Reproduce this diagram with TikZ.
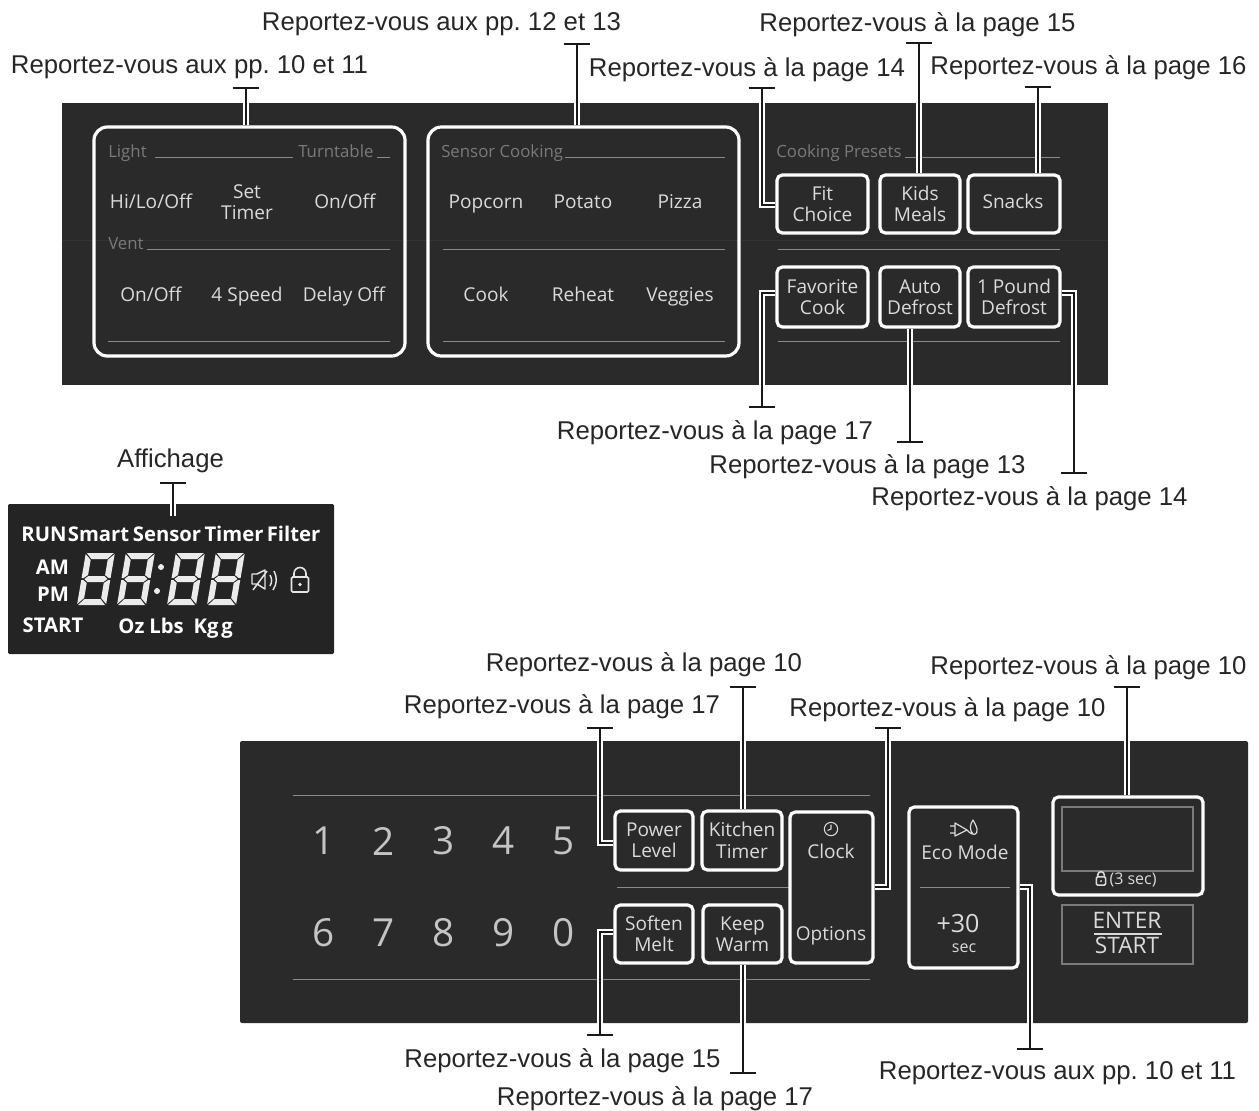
\documentclass[tikz,border=0pt]{standalone}
\usepackage{fontspec}
\setmainfont{Liberation Sans}
\newfontfamily\keyfont{Open Sans}
\usetikzlibrary{arrows.meta}

\definecolor{panelgray}{HTML}{2A2A2A}
\definecolor{dispgray}{HTML}{242424}
\definecolor{keytext}{HTML}{DADADA}
\definecolor{dimtext}{HTML}{7A7A7A}
\definecolor{rulegray}{HTML}{8A8A8A}

\tikzset{
	reflabel/.style={inner sep=0pt, yshift=-2.2pt, text=black!85, font=\frenchspacing\fontsize{19.3}{23}\selectfont},
	leader/.style={preaction={draw, white, line width=4.6pt}, draw=black!90, line width=1.8pt, -{Bar[width=20pt, line width=1.8pt]}},
	panel/.style={fill=panelgray, rounded corners=1.5pt},
	keybox/.style={draw=white, line width=2.4pt, rounded corners=4pt, inner sep=0pt},
	keytxt/.style={text=keytext, align=center, inner sep=0pt, yshift=-2.2pt, font=\keyfont\fontsize{14.3}{15.8}\selectfont, execute at begin node=\strut},
	keyplain/.style={text=keytext, inner sep=0pt},
	dimtxt/.style={text=dimtext, anchor=west, inner sep=0pt, yshift=-2.2pt, font=\keyfont\fontsize{12.6}{14}\selectfont, execute at begin node=\strut},
	numtxt/.style={text=keytext!90!black, inner sep=0pt, xshift=0.7pt, font=\keyfont\fontsize{29}{30}\selectfont},
	disptxt/.style={text=white, inner sep=0pt, yshift=-2.4pt, font=\keyfont\bfseries\fontsize{15.2}{18}\selectfont},
	sepline/.style={draw=rulegray, line width=0.7pt},
	lockicon/.pic={
		\draw[line width=1.2pt, rounded corners=1pt] (-8.5,-7.5) rectangle (8.5,7.5);
		\draw[line width=1.2pt] (-6,-7.5) -- (-6,-11) arc[start angle=180, end angle=0, radius=4.5pt] -- (6,-7.5);
		\fill (0,0) circle (1.4pt);
	}
}

% one slanted seven segment digit, argument is its left edge
\newcommand{\segdigit}[1]{
	\begin{scope}[shift={(#1,605)}, xslant=0.17]
		\fill[white!92!black] (1,-52) -- (28,-52) -- (22.5,-46) -- (6.5,-46) -- cycle
			(1,0) -- (28,0) -- (22.5,-6) -- (6.5,-6) -- cycle
			(3,-26) -- (6.5,-29) -- (22.5,-29) -- (26,-26) -- (22.5,-23) -- (6.5,-23) -- cycle
			(0,-51) -- (6,-45) -- (6,-30) -- (2,-27) -- (0,-27) -- cycle
			(0,-1) -- (6,-7) -- (6,-22) -- (2,-25) -- (0,-25) -- cycle
			(29,-51) -- (23,-45) -- (23,-30) -- (27,-27) -- (29,-27) -- cycle
			(29,-1) -- (23,-7) -- (23,-22) -- (27,-25) -- (29,-25) -- cycle;
	\end{scope}
}

\begin{document}
\begin{tikzpicture}[x=0.75pt, y=-0.75pt]
	\useasboundingbox (0,0) rectangle (1259,1110);
	
	% Top Panel
	\fill[panel, rounded corners=0pt] (62,103) rectangle (1108,385);
	\draw[black!80, line width=0.5pt] (62,240) -- (1108,240);
	\foreach \xa/\xb/\yy in {155/293/157, 377/390/157, 147/390/249, 108/390/341, 565/725/157, 443/725/249, 443/725/341, 905/1060/157, 778/1060/249, 778/1060/341}
	\draw[sepline] (\xa,\yy) -- (\xb,\yy);
	\foreach \nm/\xx/\yy/\txt in {tlight/108/151/Light, tturn/298/151/Turntable, tvent/108/243/Vent, tsensor/441/151/Sensor Cooking, tpreset/776/151/Cooking Presets}
	\node[dimtxt] (\nm) at (\xx,\yy) {\txt};
	\foreach \nm/\xx/\yy/\txt in {hilo/151/201/{Hi/Lo/Off}, settimer/247/202/{Set\\Timer}, turnonoff/345/201/{On/Off}, ventonoff/151/294/{On/Off}, fourspeed/247/294/4 Speed, delayoff/344/294/Delay Off, popcorn/486/201/Popcorn, potato/583/201/Potato, pizza/680/201/Pizza, cook/486/294/Cook, reheat/583/294/Reheat, veggies/680/294/Veggies}
	\node[keytxt] (\nm) at (\xx,\yy) {\txt};
	\node[draw=white, line width=2.4pt, rounded corners=10pt, minimum width=233.25pt, minimum height=171.75pt, inner sep=0pt] (lightbox) at (249.5,241.5) {};
	\node[draw=white, line width=2.4pt, rounded corners=10pt, minimum width=233.25pt, minimum height=171.75pt, inner sep=0pt] (sensorbox) at (583.5,241.5) {};
	\foreach \nm/\xa/\ya/\xb/\yb/\txt in {fitchoice/777/175/868/233/{Fit\\Choice}, kidsmeals/880/175/960/233/{Kids\\Meals}, favorite/777/267/868/327/{Favorite\\Cook}, autodef/880/267/960/327/{Auto\\Defrost}, pounddef/968/267/1060/327/{1 Pound\\Defrost}}
	{
		\node[keybox, minimum width={(\xb-\xa)*0.75pt}, minimum height={(\yb-\ya)*0.75pt}] (\nm) at ({(\xa+\xb)/2},{(\ya+\yb)/2}) {};
		\node[keytxt] (\nm txt) at (\nm.center) {\txt};
	}
	\node[keybox, minimum width=69pt, minimum height=43.5pt] (snacks) at (1014,204) {};
	\node[keytxt] (snacks txt) at (1013,201) {Snacks};
	
	% Top Leaders
	\node[reflabel] (lbllight) at (189.5,64) {Reportez-vous aux pp. 10 et 11};
	\node[reflabel] (lblsensor) at (441.5,21) {Reportez-vous aux pp. 12 et 13};
	\node[reflabel] (lblfit) at (747,67) {Reportez-vous à la page 14};
	\node[reflabel] (lblkids) at (917.5,22) {Reportez-vous à la page 15};
	\node[reflabel] (lblsnacks) at (1088.5,65) {Reportez-vous à la page 16};
	\node[reflabel] (lblfav) at (715,430) {Reportez-vous à la page 17};
	\node[reflabel] (lblauto) at (867.5,464) {Reportez-vous à la page 13};
	\node[reflabel] (lblpound) at (1029.5,496) {Reportez-vous à la page 14};
	\coordinate (endlight) at (246,87);
	\coordinate (endsensor) at (577,43);
	\coordinate (endfit) at (762,87);
	\coordinate (endkids) at (919,42);
	\coordinate (endsnacks) at (1038,86);
	\coordinate (endfav) at (762,408);
	\coordinate (endauto) at (910,443);
	\coordinate (endpound) at (1074,474);
	\draw[leader] (lightbox.north -| endlight) -- (endlight);
	\draw[leader] (sensorbox.north -| endsensor) -- (endsensor);
	\draw[leader] (fitchoice.west |- 0,205) -| (endfit);
	\draw[leader] (kidsmeals.north -| endkids) -- (endkids);
	\draw[leader] (snacks.north -| endsnacks) -- (endsnacks);
	\draw[leader] (favorite.west |- 0,293) -| (endfav);
	\draw[leader] (autodef.south -| endauto) -- (endauto);
	\draw[leader] (pounddef.east |- 0,293) -| (endpound);
	
	% Display
	\fill[dispgray, rounded corners=1pt] (8,504) rectangle (334,654);
	\node[reflabel] (lbldisp) at (170.5,458) {Affichage};
	\coordinate (enddisp) at (173,482);
	\coordinate (startdisp) at (173,516);
	\draw[leader] (startdisp) -- (enddisp);
	\foreach \nm/\xx/\yy/\txt in {run/44/533/RUN, smart/98.5/533/Smart, sensor/167/533/Sensor, timer/234/533/Timer, filter/293.5/533/Filter, am/52.5/566/AM, pm/53/593/PM, start/53/624/START, oz/131.5/625/Oz, lbs/166.5/625/Lbs, kg/206/625/Kg, gram/227/625/g}
	\node[disptxt] (\nm) at (\xx,\yy) {\strut\txt};
	\foreach \dx in {77,117,167,207}
	\segdigit{\dx}
	\fill[white!92!black] (161,567) circle (2pt) (157,591) circle (2pt);
	\draw[white!90!black, line width=1.1pt, line join=round] (252,574) -- (257,574) -- (265,570) -- (265,589) -- (257,584) -- (252,584) -- cycle (253,590) -- (267,571);
	\draw[white!90!black, line width=1.1pt] (270,575) to[bend left=30] (270,586) (274,571) to[bend left=30] (273,590);
	\pic[white!90!black] at (300,584.5) {lockicon};
	
	% Bottom Panel
	\fill[panel] (240,741) rectangle (1248,1023);
	\foreach \xa/\xb/\yy in {293/870/795, 293/870/979, 617/790/887, 920/1010/887}
	\draw[sepline] (\xa,\yy) -- (\xb,\yy);
	\foreach \nm/\xx/\txt in {numone/323/1, numtwo/383/2, numthree/443/3, numfour/503/4, numfive/563/5}
	\node[numtxt] (\nm) at (\xx,841) {\txt};
	\foreach \nm/\xx/\txt in {numsix/323/6, numseven/383/7, numeight/443/8, numnine/503/9, numzero/563/0}
	\node[numtxt] (\nm) at (\xx,933) {\txt};
	\foreach \nm/\xa/\ya/\xb/\yb/\txt in {power/615/811/693/870/{Power\\Level}, kitchen/702/811/782/870/{Kitchen\\Timer}, soften/615/905/693/963/{Soften\\Melt}, keepwarm/703/905/782/963/{Keep\\Warm}}
	{
		\node[keybox, minimum width={(\xb-\xa)*0.75pt}, minimum height={(\yb-\ya)*0.75pt}] (\nm) at ({(\xa+\xb)/2},{(\ya+\yb)/2}) {};
		\node[keytxt] (\nm txt) at (\nm.center) {\txt};
	}
	\foreach \nm/\xa/\ya/\xb/\yb in {clockopt/790/812/873/963, ecomode/909/807/1018/968, lockbox/1053/797/1203/895}
	\node[keybox, minimum width={(\xb-\xa)*0.75pt}, minimum height={(\yb-\ya)*0.75pt}] (\nm) at ({(\xa+\xb)/2},{(\ya+\yb)/2}) {};
	\draw[dimtext, line width=0.8pt] (1062,807) rectangle (1193,871) (1062,905) rectangle (1193,964);
	\node[keytxt] (clock) at (831,851) {Clock};
	\node[keytxt] (options) at (831,933) {Options};
	\node[keytxt] (eco) at (965,852) {Eco Mode};
	\node[keyplain, font=\keyfont\fontsize{18.8}{20}\selectfont] (plusthirty) at (958,924) {+30};
	\node[keyplain, font=\keyfont\fontsize{12}{13}\selectfont] (sec) at (964,948) {sec};
	\node[keyplain, font=\keyfont\fontsize{12}{13}\selectfont] (threesec) at (1133,880) {(3 sec)};
	\node[keyplain, font=\keyfont\fontsize{17}{18}\selectfont] (enter) at (1127,920) {ENTER};
	\node[keyplain, font=\keyfont\fontsize{17}{18}\selectfont] (startkey) at (1127,945) {START};
	\draw[keytext, line width=1pt] (1094,934) -- (1162,934);
	\pic[keytext, scale=0.55] at (1101,881) {lockicon};
	\draw[keytext, line width=0.8pt] (831,829) circle (5pt) (831,824.5) -- (831,829) -- (827.5,830.5);
	\draw[keytext, line width=0.9pt, line join=round] (955,823) -- (955,836) -- (967,830) -- cycle (950,826) -- (955,826) (950,833) -- (955,833) (967,830) .. controls (973,837) and (978,835) .. (977,829) .. controls (976,825) and (974,822) .. (973,820) .. controls (970,824) and (969,830) .. (973,834);
	
	% Bottom Leaders
	\node[reflabel] (lblpower) at (562,704) {Reportez-vous à la page 17};
	\node[reflabel] (lblkitchen) at (644,662) {Reportez-vous à la page 10};
	\node[reflabel] (lblclock) at (947.5,707) {Reportez-vous à la page 10};
	\node[reflabel] (lbllock) at (1088.5,665) {Reportez-vous à la page 10};
	\node[reflabel] (lblsoften) at (562.5,1058) {Reportez-vous à la page 15};
	\node[reflabel] (lblkeep) at (655,1096) {Reportez-vous à la page 17};
	\node[reflabel] (lbleco) at (1057.5,1070) {Reportez-vous aux pp. 10 et 11};
	\coordinate (endpower) at (600,727);
	\coordinate (endkitchen) at (743,686);
	\coordinate (endclock) at (888,727);
	\coordinate (endlock) at (1127,686);
	\coordinate (endsoften) at (600,1036);
	\coordinate (endkeep) at (743,1074);
	\coordinate (endeco) at (1030,1050);
	\draw[leader] (power.west |- 0,843) -| (endpower);
	\draw[leader] (kitchen.north -| endkitchen) -- (endkitchen);
	\draw[leader] (clockopt.east |- 0,887) -| (endclock);
	\draw[leader] (lockbox.north -| endlock) -- (endlock);
	\draw[leader] (soften.west |- 0,932) -| (endsoften);
	\draw[leader] (keepwarm.south -| endkeep) -- (endkeep);
	\draw[leader] (ecomode.east |- 0,887) -| (endeco);
	
\end{tikzpicture}
\end{document}
